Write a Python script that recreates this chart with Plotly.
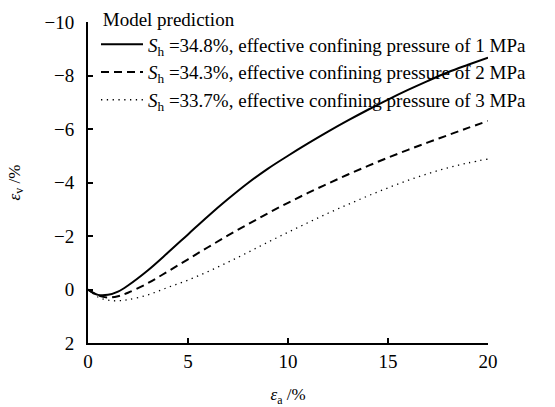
import plotly.graph_objects as go

# Axial strain (%) at which the model curves are evaluated
axial_strain = [0, 0.5, 1, 1.5, 2, 3, 4, 5, 6, 7, 8, 9, 10, 11, 12, 13, 14, 15, 16, 17, 18, 19, 20]

# Volumetric strain (%) for each hydrate saturation / confining pressure
vol_1mpa = [0, 0.2, 0.2, 0.08, -0.15, -0.72, -1.38, -2.06, -2.74, -3.38, -3.98, -4.52, -5.0,
            -5.46, -5.9, -6.32, -6.72, -7.1, -7.46, -7.8, -8.12, -8.4, -8.67]
vol_2mpa = [0, 0.22, 0.3, 0.25, 0.12, -0.24, -0.68, -1.13, -1.58, -2.02, -2.44, -2.85, -3.24,
            -3.61, -3.96, -4.3, -4.62, -4.93, -5.22, -5.5, -5.77, -6.04, -6.3]
vol_3mpa = [0, 0.28, 0.4, 0.42, 0.38, 0.2, -0.08, -0.35, -0.67, -1.02, -1.39, -1.77, -2.14,
            -2.5, -2.85, -3.18, -3.5, -3.8, -4.08, -4.33, -4.55, -4.73, -4.88]

series_names = [
    "<i>S</i><sub>h</sub> =34.8%, effective confining pressure of 1 MPa",
    "<i>S</i><sub>h</sub> =34.3%, effective confining pressure of 2 MPa",
    "<i>S</i><sub>h</sub> =33.7%, effective confining pressure of 3 MPa",
]

x_ticks = [0, 5, 10, 15, 20]
y_ticks = [-10, -8, -6, -4, -2, 0, 2]
y_tick_text = ["\u221210", "\u22128", "\u22126", "\u22124", "\u22122", "0", "2"]

FONT = "Liberation Serif, Times New Roman, serif"

fig = go.Figure()
styles = [
    dict(color="black", width=2, dash="solid"),
    dict(color="black", width=2, dash="8px,5px"),
    dict(color="black", width=1.3, dash="1.3px,4.5px"),
]
for ys, name, st in zip([vol_1mpa, vol_2mpa, vol_3mpa], series_names, styles):
    fig.add_trace(go.Scatter(x=axial_strain, y=ys, mode="lines", name=name,
                             line=dict(shape="spline", smoothing=1.0, **st)))

fig.update_layout(
    width=555, height=407,
    margin=dict(l=88, r=67, t=22, b=64, autoexpand=False),
    paper_bgcolor="white", plot_bgcolor="white",
    font=dict(family=FONT, size=19, color="black"),
    showlegend=True,
    legend=dict(
        title=dict(text="\u00a0Model prediction", font=dict(family=FONT, size=19)),
        x=0.02, y=1.066, xanchor="left", yanchor="top",
        bgcolor="rgba(0,0,0,0)", borderwidth=0,
        font=dict(family=FONT, size=19),
        tracegroupgap=0, itemwidth=42,
    ),
    xaxis=dict(
        range=[0, 20], tickvals=x_ticks, ticks="inside", ticklen=5, tickwidth=1.5,
        tickcolor="black", showline=True, linecolor="black", linewidth=2,
        showgrid=False, zeroline=False, mirror=False,
        title=dict(text="<i>\u03b5</i><sub>a</sub> /%", font=dict(size=17), standoff=24),
    ),
    yaxis=dict(
        range=[2, -10], tickvals=y_ticks, ticktext=y_tick_text, ticks="inside", ticklen=5,
        tickwidth=1.5, tickcolor="black", showline=True, linecolor="black", linewidth=2,
        showgrid=False, zeroline=False, mirror=False, ticklabelstandoff=8,
        title=dict(text="<i>\u03b5</i><sub>v</sub> /%", font=dict(size=17), standoff=20),
    ),
)

fig.write_html("out.html")
